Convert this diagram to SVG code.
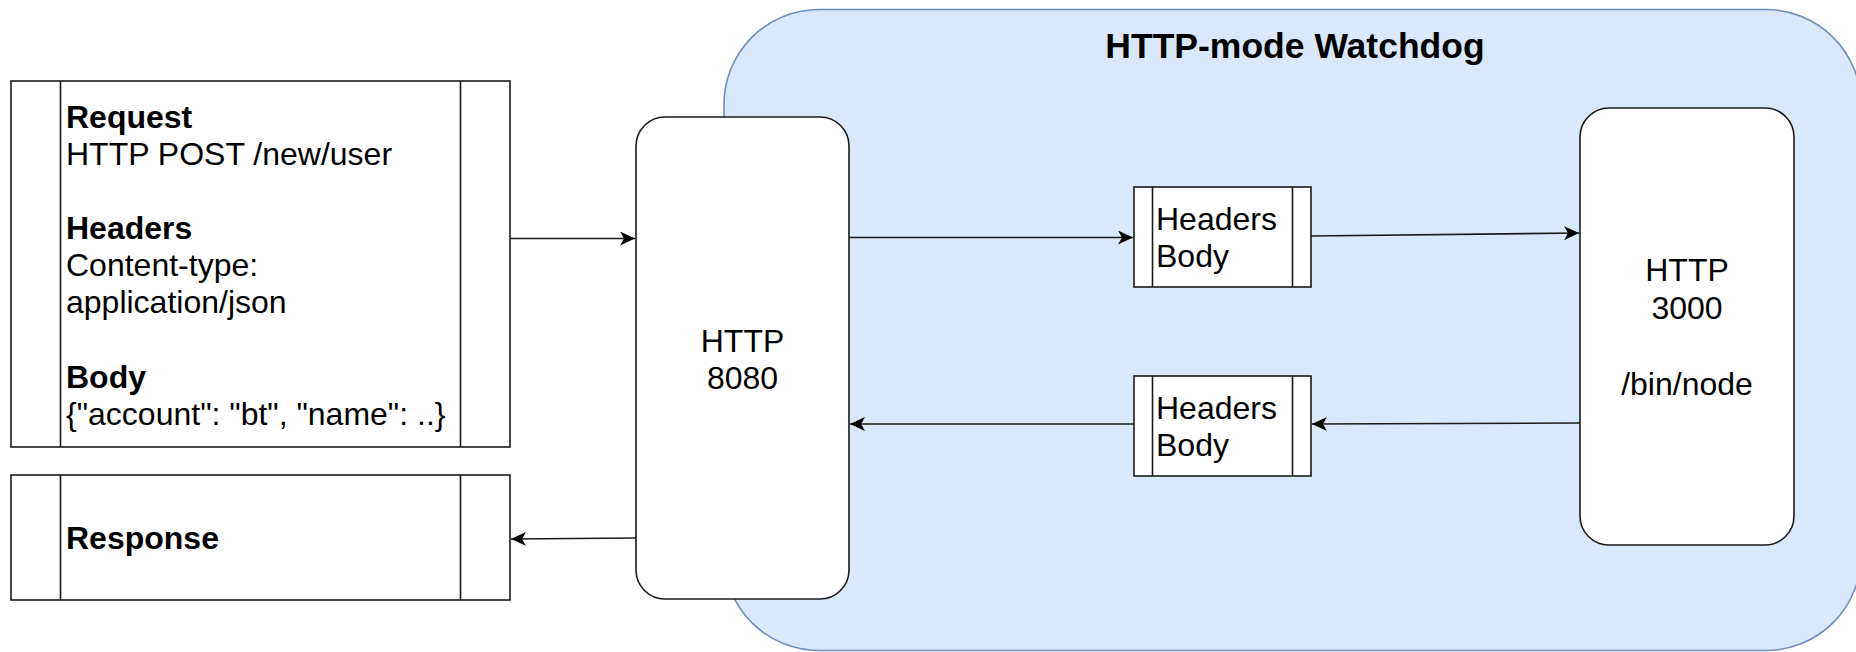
<svg xmlns="http://www.w3.org/2000/svg" width="1856" height="652" viewBox="0 0 1856 652">
<style>
  text { font-family: "Liberation Sans", Arial, Helvetica, sans-serif; fill: #000; }
  .t { font-size: 32px; }
  .b { font-weight: bold; }
  .title { font-size: 35.5px; font-weight: bold; }
  .box { fill: #ffffff; stroke: #1a1a1a; stroke-width: 1.6; }
  .div { stroke: #1a1a1a; stroke-width: 1.6; fill: none; }
  .edge { stroke: #1a1a1a; stroke-width: 1.6; fill: none; marker-end: url(#arrow); }
</style>
<defs>
  <marker id="arrow" markerUnits="userSpaceOnUse" markerWidth="16" markerHeight="16" refX="15" refY="7" orient="auto">
    <path d="M0,0 L15,7 L0,14 L4,7 Z" fill="#000"/>
  </marker>
</defs>
<rect width="1856" height="652" fill="#ffffff"/>

<g id="watchdog">
  <rect x="724" y="9.5" width="1137" height="641" rx="95" ry="95" fill="#dae8fc" stroke="#6c8ebf" stroke-width="1.6"/>
  <text class="title" x="1295" y="58" text-anchor="middle">HTTP-mode Watchdog</text>
</g>

<g id="request">
  <rect class="box" x="11" y="81" width="499" height="366"/>
  <line class="div" x1="60.5" y1="81" x2="60.5" y2="447"/>
  <line class="div" x1="460.5" y1="81" x2="460.5" y2="447"/>
  <text class="t" x="66">
    <tspan class="b" x="66" y="128">Request</tspan>
    <tspan x="66" y="165">HTTP POST /new/user</tspan>
    <tspan class="b" x="66" y="239">Headers</tspan>
    <tspan x="66" y="276">Content-type:</tspan>
    <tspan x="66" y="313">application/json</tspan>
    <tspan class="b" x="66" y="388">Body</tspan>
    <tspan x="66" y="425">{"account": "bt", "name": ..}</tspan>
  </text>
</g>

<g id="response">
  <rect class="box" x="11" y="475" width="499" height="125"/>
  <line class="div" x1="60.5" y1="475" x2="60.5" y2="600"/>
  <line class="div" x1="460.5" y1="475" x2="460.5" y2="600"/>
  <text class="t b" x="66" y="549">Response</text>
</g>

<g id="http8080">
  <rect class="box" x="636" y="117" width="213" height="482" rx="29" ry="29"/>
  <text class="t" x="742.5" y="352" text-anchor="middle">HTTP</text>
  <text class="t" x="742.5" y="389" text-anchor="middle">8080</text>
</g>

<g id="payload-in">
  <rect class="box" x="1134" y="187" width="177" height="100"/>
  <line class="div" x1="1152.5" y1="187" x2="1152.5" y2="287"/>
  <line class="div" x1="1292.5" y1="187" x2="1292.5" y2="287"/>
  <text class="t" x="1156" y="230">Headers</text>
  <text class="t" x="1156" y="267">Body</text>
</g>

<g id="payload-out">
  <rect class="box" x="1134" y="376" width="177" height="100"/>
  <line class="div" x1="1152.5" y1="376" x2="1152.5" y2="476"/>
  <line class="div" x1="1292.5" y1="376" x2="1292.5" y2="476"/>
  <text class="t" x="1156" y="419">Headers</text>
  <text class="t" x="1156" y="456">Body</text>
</g>

<g id="http3000">
  <rect class="box" x="1580" y="108" width="214" height="437" rx="29" ry="29"/>
  <text class="t" x="1687" y="281" text-anchor="middle">HTTP</text>
  <text class="t" x="1687" y="319" text-anchor="middle">3000</text>
  <text class="t" x="1687" y="395" text-anchor="middle">/bin/node</text>
</g>

<g id="connectors">
  <line class="edge" x1="510" y1="238.5" x2="635" y2="238.5"/>
  <line class="edge" x1="849" y1="237.5" x2="1133" y2="237.5"/>
  <line class="edge" x1="1311" y1="236" x2="1579" y2="233"/>
  <line class="edge" x1="1580" y1="423" x2="1312" y2="424"/>
  <line class="edge" x1="1134" y1="424" x2="850" y2="424"/>
  <line class="edge" x1="636" y1="538" x2="511" y2="539"/>
</g>
</svg>
